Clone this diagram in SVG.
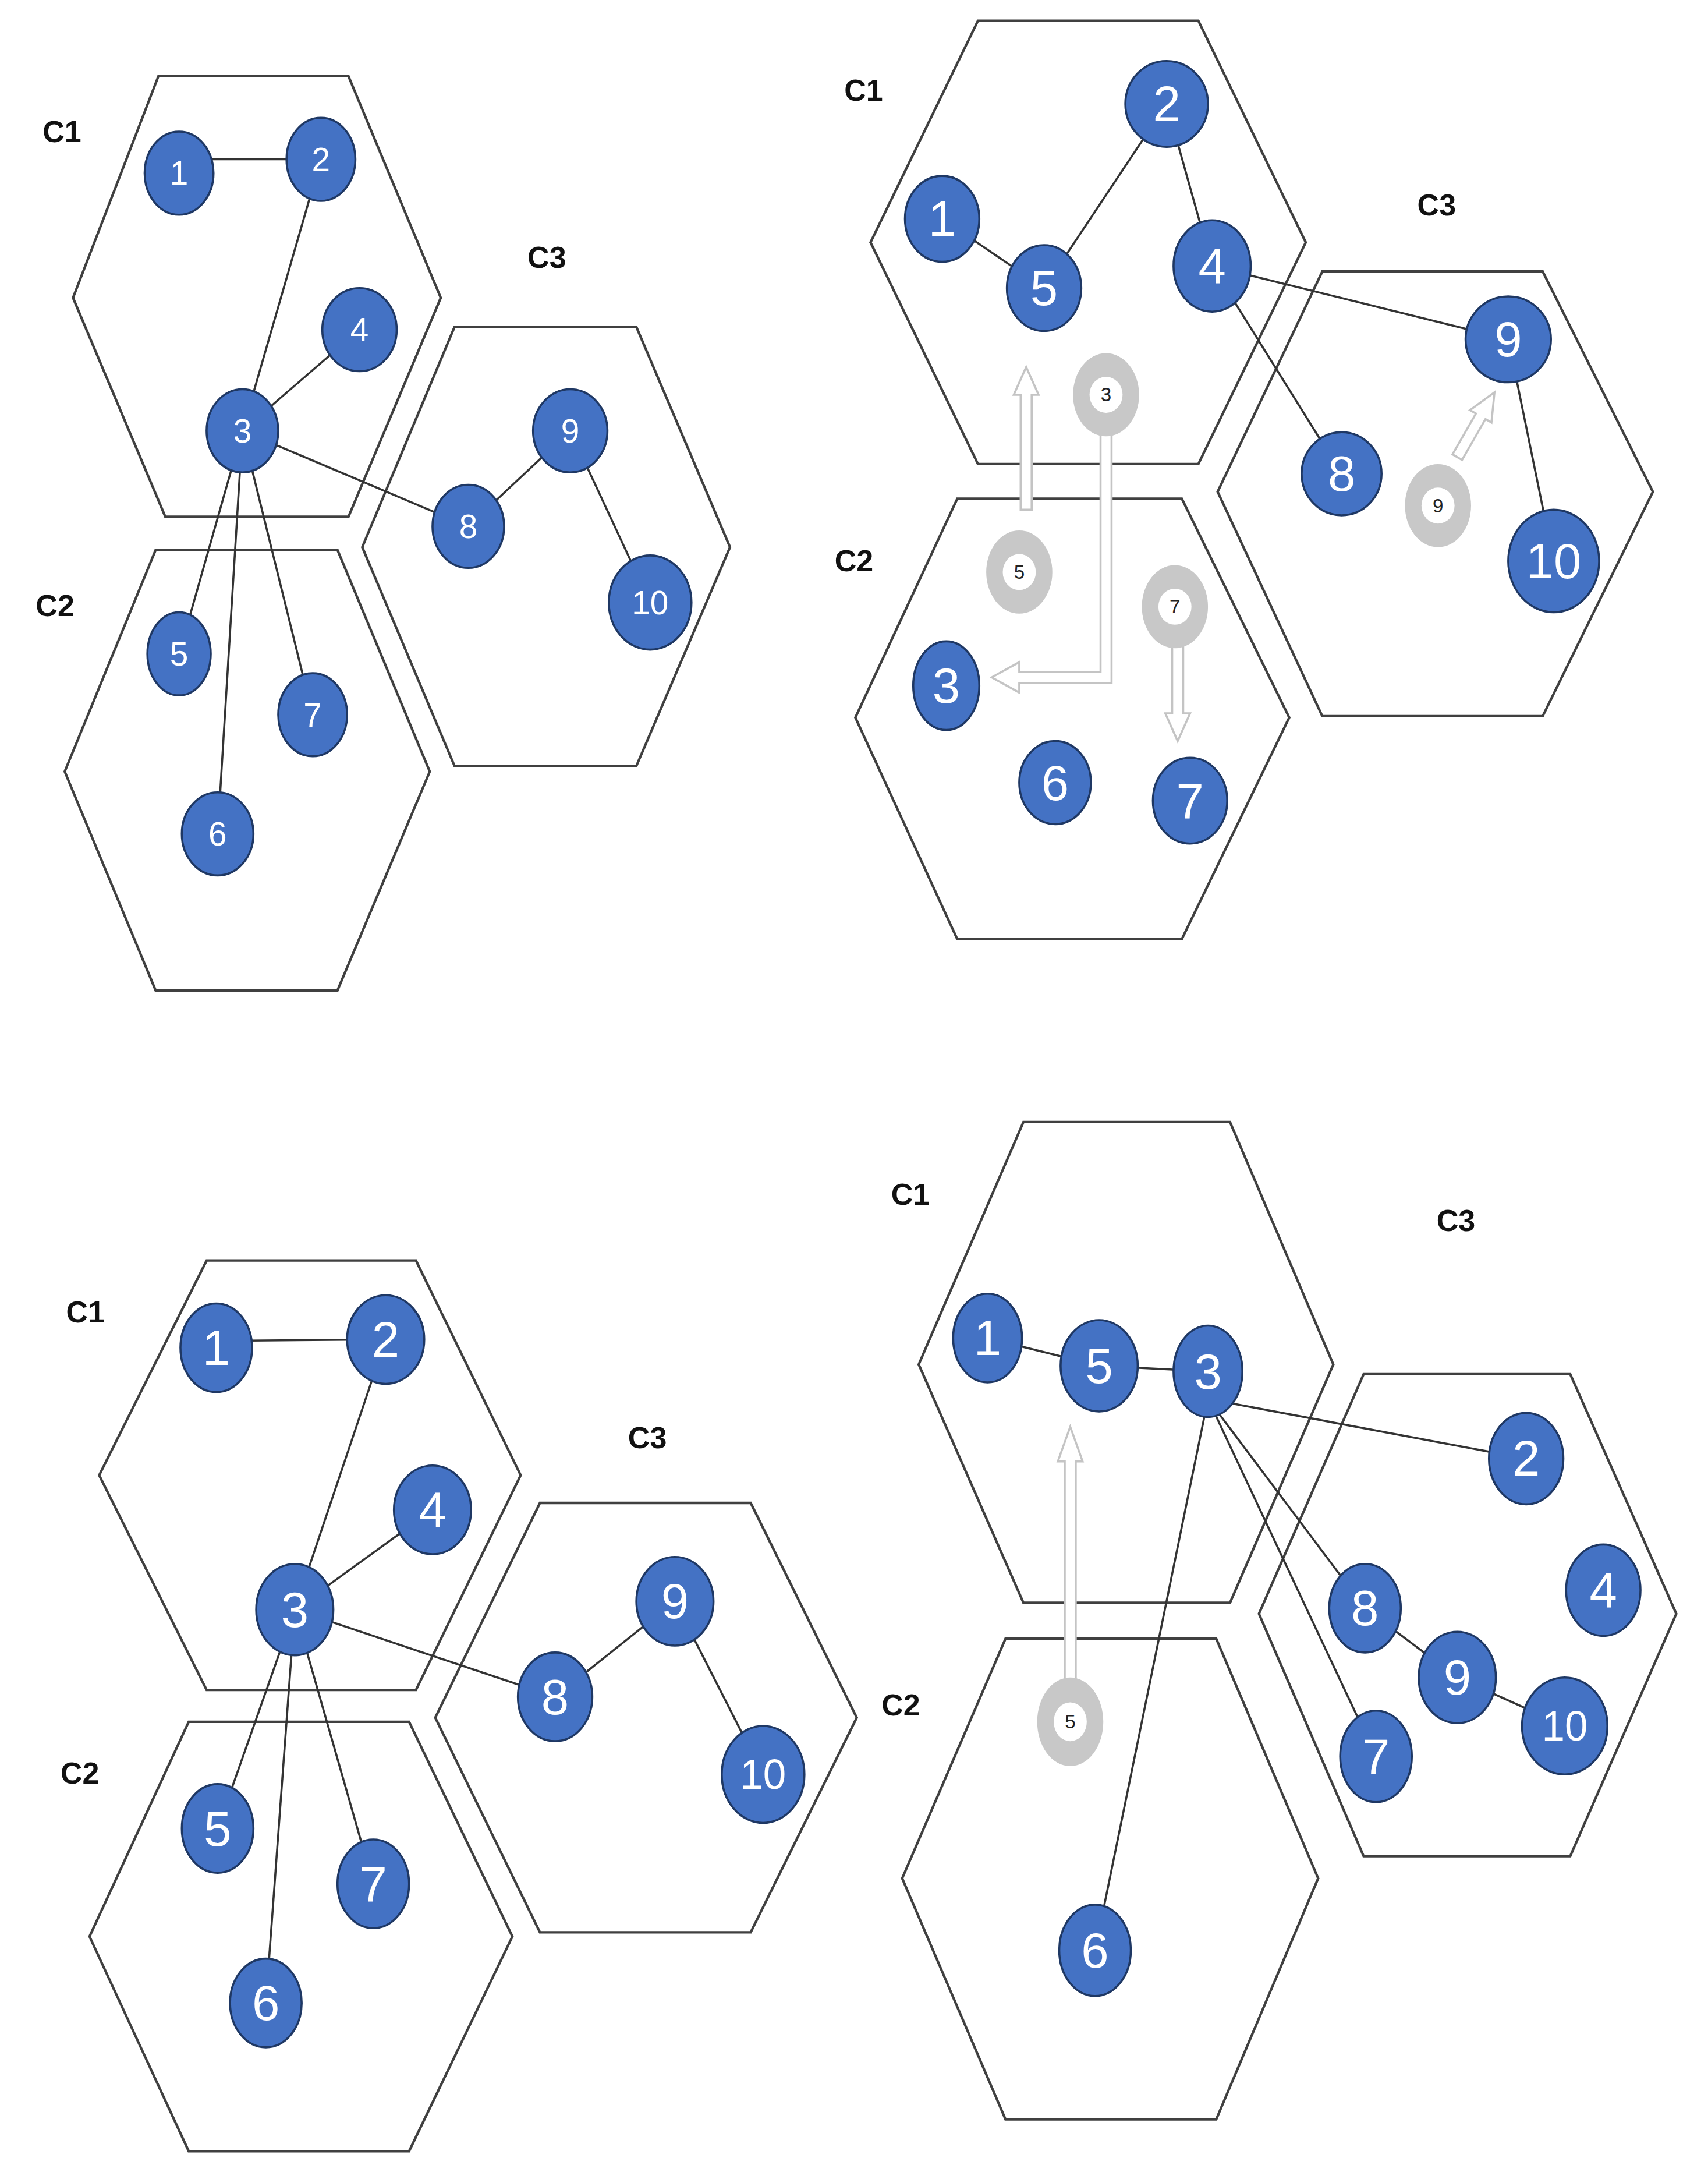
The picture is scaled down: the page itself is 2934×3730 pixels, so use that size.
<svg xmlns="http://www.w3.org/2000/svg" width="2934" height="3730" viewBox="0 0 2934 3730">
<style>
.hex{fill:none;stroke:#404040;stroke-width:1.8}
.e line{stroke:#333;stroke-width:1.5}
.n ellipse{fill:#4472C4;stroke:#1F3864;stroke-width:1.5}
.n text{fill:#fff;font-family:"Liberation Sans",Arial,sans-serif;text-anchor:middle;dominant-baseline:central}
.g ellipse.o{fill:#c8c8c8}
.g ellipse.i{fill:#fff}
.g text{fill:#222;font-family:"Liberation Sans",Arial,sans-serif;font-size:14px;text-anchor:middle;dominant-baseline:central}
.ar{fill:#fff;stroke:#c4c4c4;stroke-width:1.5}
.lb{font-family:"Liberation Sans",Arial,sans-serif;font-weight:bold;font-size:22px;fill:#111;text-anchor:middle;dominant-baseline:central}
</style>
<rect width="2934" height="3730" fill="#fff"/>
<g transform="scale(2.3661,2.3788)">
<!-- Panel 1 -->
<g id="p1">
<g id="p1-hex">
<polygon class="hex" points="115,55 253,55 320,215 253,373 120,373 53,215"/>
<polygon class="hex" points="113,397 245,397 312,557 245,715 113,715 47,557"/>
<polygon class="hex" points="330,236 462,236 530,395 462,553 330,553 263,395"/>
<text class="lb" x="45" y="95">C1</text><text class="lb" x="397" y="186">C3</text><text class="lb" x="40" y="437">C2</text>
</g>
<g id="p1-edges" class="e">
<line x1="130" y1="115" x2="233" y2="115"/><line x1="233" y1="115" x2="176" y2="311"/><line x1="176" y1="311" x2="261" y2="238"/>
<line x1="176" y1="311" x2="340" y2="380"/><line x1="340" y1="380" x2="414" y2="311"/><line x1="414" y1="311" x2="472" y2="435"/>
<line x1="176" y1="311" x2="130" y2="472"/><line x1="176" y1="311" x2="158" y2="602"/><line x1="176" y1="311" x2="227" y2="516"/>
</g>
<g class="n" font-size="24">
<g id="p1-n1"><ellipse cx="130" cy="125" rx="25" ry="30"/><text x="130" y="125">1</text></g>
<g id="p1-n2"><ellipse cx="233" cy="115" rx="25" ry="30"/><text x="233" y="115">2</text></g>
<g id="p1-n4"><ellipse cx="261" cy="238" rx="27" ry="30"/><text x="261" y="238">4</text></g>
<g id="p1-n3"><ellipse cx="176" cy="311" rx="26" ry="30"/><text x="176" y="311">3</text></g>
<g id="p1-n8"><ellipse cx="340" cy="380" rx="26" ry="30"/><text x="340" y="380">8</text></g>
<g id="p1-n9"><ellipse cx="414" cy="311" rx="27" ry="30"/><text x="414" y="311">9</text></g>
<g id="p1-n10"><ellipse cx="472" cy="435" rx="30" ry="34"/><text x="472" y="435">10</text></g>
<g id="p1-n5"><ellipse cx="130" cy="472" rx="23" ry="30"/><text x="130" y="472">5</text></g>
<g id="p1-n7"><ellipse cx="227" cy="516" rx="25" ry="30"/><text x="227" y="516">7</text></g>
<g id="p1-n6"><ellipse cx="158" cy="602" rx="26" ry="30"/><text x="158" y="602">6</text></g>
</g>
</g>
<!-- Panel 2 -->
<g id="p2">
<g id="p2-hex">
<polygon class="hex" points="710,15 870,15 948,175 870,335 710,335 632,175"/>
<polygon class="hex" points="695,360 858,360 936,518 858,678 695,678 621,518"/>
<polygon class="hex" points="960,196 1120,196 1200,355 1120,517 960,517 884,355"/>
<text class="lb" x="627" y="65">C1</text><text class="lb" x="1043" y="148">C3</text><text class="lb" x="620" y="405">C2</text>
</g>
<g id="p2-edges" class="e">
<line x1="684" y1="158" x2="758" y2="208"/><line x1="758" y1="208" x2="847" y2="75"/><line x1="847" y1="75" x2="880" y2="192"/>
<line x1="880" y1="192" x2="1095" y2="245"/><line x1="880" y1="192" x2="974" y2="342"/><line x1="1095" y1="245" x2="1128" y2="405"/>
</g>
<g id="p2-moves">
<polygon class="ar" points="741,368 741,285 736,285 745,265 754,285 749,285 749,368"/>
<polygon class="ar" points="799,305 807,305 807,493 740,493 740,500 720,489 740,478 740,485 799,485"/>
<polygon class="ar" points="851,460 859,460 859,515 864,515 855,535 846,515 851,515"/>
<polygon class="ar" transform="translate(1058,330) rotate(30)" points="-4,0 -4,-34 -9,-34 0,-54 9,-34 4,-34 4,0"/>
</g>
<g class="g">
<g id="p2-g3"><ellipse class="o" cx="803" cy="285" rx="24" ry="30"/><ellipse class="i" cx="803" cy="285" rx="12" ry="13"/><text x="803" y="285">3</text></g>
<g id="p2-g5"><ellipse class="o" cx="740" cy="413" rx="24" ry="30"/><ellipse class="i" cx="740" cy="413" rx="12" ry="13"/><text x="740" y="413">5</text></g>
<g id="p2-g7"><ellipse class="o" cx="853" cy="438" rx="24" ry="30"/><ellipse class="i" cx="853" cy="438" rx="12" ry="13"/><text x="853" y="438">7</text></g>
<g id="p2-g9"><ellipse class="o" cx="1044" cy="365" rx="24" ry="30"/><ellipse class="i" cx="1044" cy="365" rx="12" ry="13"/><text x="1044" y="365">9</text></g>
</g>
<g class="n" font-size="36">
<g id="p2-n2"><ellipse cx="847" cy="75" rx="30" ry="31"/><text x="847" y="75">2</text></g>
<g id="p2-n1"><ellipse cx="684" cy="158" rx="27" ry="31"/><text x="684" y="158">1</text></g>
<g id="p2-n5"><ellipse cx="758" cy="208" rx="27" ry="31"/><text x="758" y="208">5</text></g>
<g id="p2-n4"><ellipse cx="880" cy="192" rx="28" ry="33"/><text x="880" y="192">4</text></g>
<g id="p2-n9"><ellipse cx="1095" cy="245" rx="31" ry="31"/><text x="1095" y="245">9</text></g>
<g id="p2-n8"><ellipse cx="974" cy="342" rx="29" ry="30"/><text x="974" y="342">8</text></g>
<g id="p2-n10"><ellipse cx="1128" cy="405" rx="33" ry="37"/><text x="1128" y="405">10</text></g>
<g id="p2-n3"><ellipse cx="687" cy="495" rx="24" ry="32"/><text x="687" y="495">3</text></g>
<g id="p2-n6"><ellipse cx="766" cy="565" rx="26" ry="30"/><text x="766" y="565">6</text></g>
<g id="p2-n7"><ellipse cx="864" cy="578" rx="27" ry="31"/><text x="864" y="578">7</text></g>
</g>
</g>
<!-- Panel 3 -->
<g id="p3">
<g id="p3-hex">
<polygon class="hex" points="150,910 302,910 378,1065 302,1220 150,1220 72,1065"/>
<polygon class="hex" points="137,1243 297,1243 372,1398 297,1553 137,1553 65,1398"/>
<polygon class="hex" points="392,1085 545,1085 622,1240 545,1395 392,1395 316,1240"/>
<text class="lb" x="62" y="947">C1</text><text class="lb" x="470" y="1038">C3</text><text class="lb" x="58" y="1280">C2</text>
</g>
<g id="p3-edges" class="e">
<line x1="157" y1="968" x2="280" y2="967"/><line x1="280" y1="967" x2="214" y2="1162"/><line x1="214" y1="1162" x2="314" y2="1090"/>
<line x1="214" y1="1162" x2="403" y2="1225"/><line x1="403" y1="1225" x2="490" y2="1156"/><line x1="490" y1="1156" x2="554" y2="1281"/>
<line x1="214" y1="1162" x2="158" y2="1320"/><line x1="214" y1="1162" x2="193" y2="1446"/><line x1="214" y1="1162" x2="271" y2="1360"/>
</g>
<g class="n" font-size="36">
<g id="p3-n1"><ellipse cx="157" cy="973" rx="26" ry="32"/><text x="157" y="973">1</text></g>
<g id="p3-n2"><ellipse cx="280" cy="967" rx="28" ry="32"/><text x="280" y="967">2</text></g>
<g id="p3-n4"><ellipse cx="314" cy="1090" rx="28" ry="32"/><text x="314" y="1090">4</text></g>
<g id="p3-n3"><ellipse cx="214" cy="1162" rx="28" ry="33"/><text x="214" y="1162">3</text></g>
<g id="p3-n8"><ellipse cx="403" cy="1225" rx="27" ry="32"/><text x="403" y="1225">8</text></g>
<g id="p3-n9"><ellipse cx="490" cy="1156" rx="28" ry="32"/><text x="490" y="1156">9</text></g>
<g id="p3-n10"><ellipse cx="554" cy="1281" rx="30" ry="35"/><text x="554" y="1281" font-size="30">10</text></g>
<g id="p3-n5"><ellipse cx="158" cy="1320" rx="26" ry="32"/><text x="158" y="1320">5</text></g>
<g id="p3-n7"><ellipse cx="271" cy="1360" rx="26" ry="32"/><text x="271" y="1360">7</text></g>
<g id="p3-n6"><ellipse cx="193" cy="1446" rx="26" ry="32"/><text x="193" y="1446">6</text></g>
</g>
</g>
<!-- Panel 4 -->
<g id="p4">
<g id="p4-hex">
<polygon class="hex" points="743,810 893,810 968,985 893,1157 743,1157 667,985"/>
<polygon class="hex" points="730,1183 883,1183 957,1356 883,1530 730,1530 655,1356"/>
<polygon class="hex" points="990,992 1140,992 1217,1165 1140,1340 990,1340 914,1165"/>
<text class="lb" x="661" y="862">C1</text><text class="lb" x="1057" y="881">C3</text><text class="lb" x="654" y="1231">C2</text>
</g>
<g id="p4-edges" class="e">
<line x1="717" y1="966" x2="798" y2="986"/><line x1="798" y1="986" x2="877" y2="990"/><line x1="877" y1="1010" x2="1108" y2="1053"/>
<line x1="877" y1="1010" x2="991" y2="1161"/><line x1="877" y1="1010" x2="999" y2="1268"/><line x1="877" y1="1010" x2="795" y2="1408"/>
<line x1="991" y1="1161" x2="1058" y2="1211"/><line x1="1058" y1="1211" x2="1136" y2="1246"/>
</g>
<g id="p4-moves">
<polygon class="ar" points="773,1212 773,1055 768,1055 777,1030 786,1055 781,1055 781,1212"/>
</g>
<g class="g">
<g id="p4-g5"><ellipse class="o" cx="777" cy="1243" rx="24" ry="32"/><ellipse class="i" cx="777" cy="1243" rx="12" ry="14"/><text x="777" y="1243">5</text></g>
</g>
<g class="n" font-size="36">
<g id="p4-n1"><ellipse cx="717" cy="966" rx="25" ry="32"/><text x="717" y="966">1</text></g>
<g id="p4-n5"><ellipse cx="798" cy="986" rx="28" ry="33"/><text x="798" y="986">5</text></g>
<g id="p4-n3"><ellipse cx="877" cy="990" rx="25" ry="33"/><text x="877" y="990">3</text></g>
<g id="p4-n2"><ellipse cx="1108" cy="1053" rx="27" ry="33"/><text x="1108" y="1053">2</text></g>
<g id="p4-n4"><ellipse cx="1164" cy="1148" rx="27" ry="33"/><text x="1164" y="1148">4</text></g>
<g id="p4-n8"><ellipse cx="991" cy="1161" rx="26" ry="32"/><text x="991" y="1161">8</text></g>
<g id="p4-n9"><ellipse cx="1058" cy="1211" rx="28" ry="33"/><text x="1058" y="1211">9</text></g>
<g id="p4-n10"><ellipse cx="1136" cy="1246" rx="31" ry="35"/><text x="1136" y="1246" font-size="30">10</text></g>
<g id="p4-n7"><ellipse cx="999" cy="1268" rx="26" ry="33"/><text x="999" y="1268">7</text></g>
<g id="p4-n6"><ellipse cx="795" cy="1408" rx="26" ry="33"/><text x="795" y="1408">6</text></g>
</g>
</g>
</g>
</svg>
